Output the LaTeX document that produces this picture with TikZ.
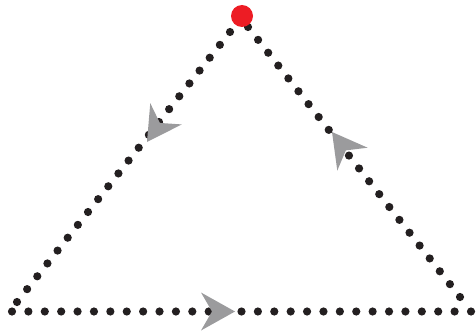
\documentclass[tikz,border=0pt]{standalone}
\usetikzlibrary{calc}
\definecolor{dotblack}{HTML}{231F20}
\definecolor{arrgray}{HTML}{9B9B9D}
\definecolor{apexred}{HTML}{ED1C24}
\tikzset{
  dotmark/.style={fill=dotblack},
  arrowhead/.style={fill=arrgray},
  apexdot/.style={circle,fill=apexred,minimum size=22pt,inner sep=0pt}
}
\begin{document}
\begin{tikzpicture}[x=1pt,y=1pt]
\useasboundingbox (0,0) rectangle (476,330);
\clip (0,0) rectangle (476,330);
% edge end points
\coordinate (L1) at (17,28);
\coordinate (L2) at (230,298);
\coordinate (R1) at (248,303);
\coordinate (R2) at (460,33);
\coordinate (B1) at (12,18.5);
\coordinate (B2) at (471,18.5);
% dotted edges
\foreach \i in {0,...,21} {\fill[dotmark] ($(L1)!\i/21!(L2)$) circle (4.1);}
\foreach \i in {0,...,21} {\fill[dotmark] ($(R1)!\i/21!(R2)$) circle (4.1);}
\foreach \i in {0,...,28} {\fill[dotmark] ($(B1)!\i/28!(B2)$) circle (4.1);}
% arrowheads
\coordinate (TL) at (147,188);
\coordinate (TR) at (332,198);
\coordinate (TB) at (235,18.5);
\foreach \t/\a in {TL/236, TR/127, TB/0} {
  \fill[arrowhead,shift={(\t)},rotate=\a] (0,0) -- (-34,19) -- (-23,0) -- (-34,-19) -- cycle;
}
% apex
\node[apexdot] (apex) at (242,314) {};
\end{tikzpicture}
\end{document}
